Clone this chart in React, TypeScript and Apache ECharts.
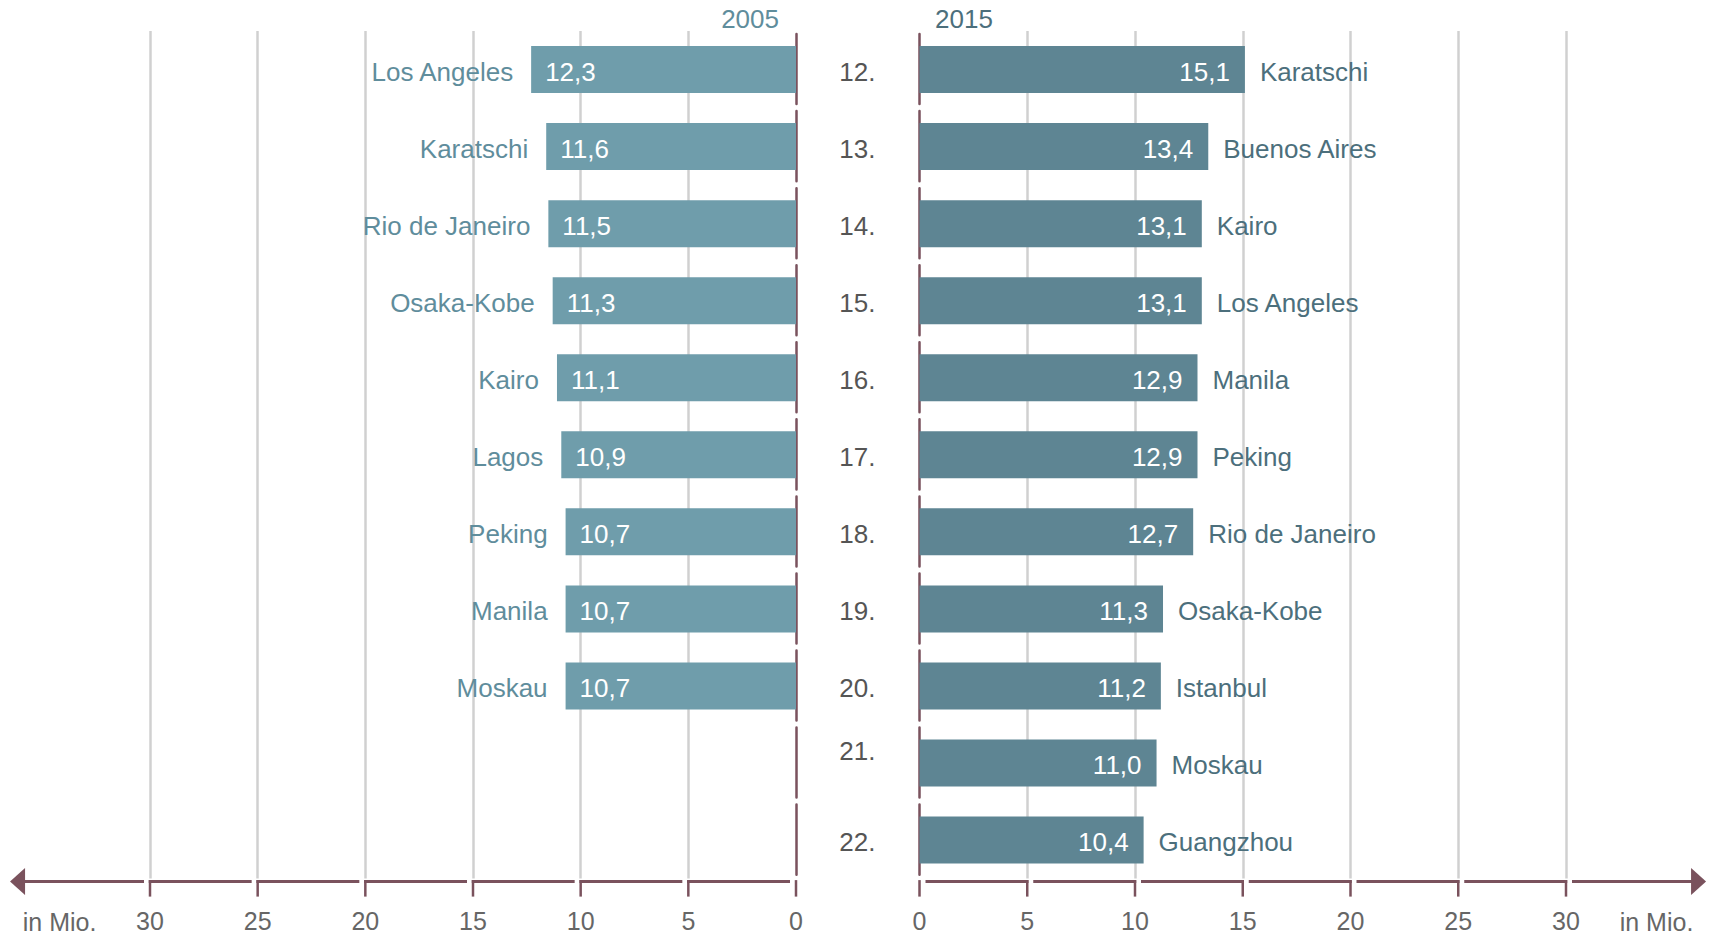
import React, { useEffect, useRef } from 'react';
import * as echarts from 'echarts';

// ---- data ----
const ranks = ['12.', '13.', '14.', '15.', '16.', '17.', '18.', '19.', '20.', '21.', '22.'];
const cities2005 = ['Los Angeles', 'Karatschi', 'Rio de Janeiro', 'Osaka-Kobe', 'Kairo', 'Lagos', 'Peking', 'Manila', 'Moskau'];
const values2005 = [12.3, 11.6, 11.5, 11.3, 11.1, 10.9, 10.7, 10.7, 10.7];
const cities2015 = ['Karatschi', 'Buenos Aires', 'Kairo', 'Los Angeles', 'Manila', 'Peking', 'Rio de Janeiro', 'Osaka-Kobe', 'Istanbul', 'Moskau', 'Guangzhou'];
const values2015 = [15.1, 13.4, 13.1, 13.1, 12.9, 12.9, 12.7, 11.3, 11.2, 11.0, 10.4];
const axisTicks = [0, 5, 10, 15, 20, 25, 30];
const yearLeft = '2005';
const yearRight = '2015';
const unitLabel = 'in Mio.';
const raisedRank = '21.';

// ---- style ----
const FONT = '"Liberation Sans", Arial, sans-serif';
const FS = 25;
const FSL = 26;
const MAROON = '#7a525d';
const GRID_GRAY = '#d0d0d0';
const BAR_LEFT = '#6f9dab';
const BAR_RIGHT = '#5e8593';
const TEXT_LEFT = '#5f8d9c';
const TEXT_RIGHT = '#4c6f7c';
const RANK_COLOR = '#555555';
const AXIS_TEXT = '#666666';
const ARROW_AT = 36.5;
const UNIT_AT = 34.2;
const GAP = 6;

const fmt = (v: number) => v.toFixed(1).replace('.', ',');

const GRID_TOP = 31;
const GRID_H = 847.6;
const PITCH = GRID_H / ranks.length;

function axisRenderer(side: number) {
  return (params: any, api: any) => {
    const v = api.value(0);
    const cs = params.coordSys;
    const y = cs.y + cs.height + 3;
    const x = api.coord([v, 0])[0];
    const maxTick = axisTicks[axisTicks.length - 1];
    const step = axisTicks[1] - axisTicks[0];
    const lw = 3;
    const children: any[] = [];
    children.push({
      type: 'line',
      shape: { x1: x, y1: y - lw / 2, x2: x, y2: y + 15 },
      style: { stroke: MAROON, lineWidth: 2.5 },
    });
    if (v < maxTick) {
      const xn = api.coord([v + step, 0])[0];
      children.push({
        type: 'line',
        shape: { x1: x + side * GAP, y1: y, x2: xn + side * 1.25, y2: y },
        style: { stroke: MAROON, lineWidth: lw },
      });
    } else {
      const xt = api.coord([ARROW_AT, 0])[0];
      children.push({
        type: 'line',
        shape: { x1: x + side * GAP, y1: y, x2: xt - side * 12, y2: y },
        style: { stroke: MAROON, lineWidth: lw },
      });
      children.push({
        type: 'polygon',
        shape: { points: [[xt, y], [xt - side * 15, y - 13.5], [xt - side * 15, y + 13.5]] },
        style: { fill: MAROON },
      });
      const xu = api.coord([UNIT_AT, 0])[0];
      children.push({
        type: 'text',
        x: xu,
        y: y + 40,
        style: { text: unitLabel, align: 'center', verticalAlign: 'middle', font: `${FS}px ${FONT}`, fill: AXIS_TEXT },
      });
    }
    return { type: 'group', children };
  };
}

export default function App() {
  const ref = useRef<HTMLDivElement>(null);
  useEffect(() => {
    if (!ref.current) return;
    const chart = echarts.init(ref.current, undefined, { renderer: 'svg' });
    const xAxisCommon = {
      type: 'value',
      min: 0,
      max: 30,
      interval: 5,
      axisLine: { show: false },
      axisTick: { show: false },
      splitLine: { show: true, showMinLine: false, lineStyle: { color: GRID_GRAY, width: 2.5 } },
      axisLabel: { margin: 30, color: AXIS_TEXT, fontSize: FS, fontFamily: FONT },
    };
    const dashLine = {
      show: true,
      lineStyle: { color: MAROON, width: 2.5, type: [PITCH - 7, 7], dashOffset: PITCH - 3.5 },
    };
    const barLabel = { fontSize: FSL, fontFamily: FONT, offset: [0, 2] };
    const option: any = {
      animation: false,
      backgroundColor: '#ffffff',
      textStyle: { fontFamily: FONT },
      grid: [
        { left: 150, width: 646, top: GRID_TOP, height: GRID_H, containLabel: false },
        { left: 919.5, width: 646.5, top: GRID_TOP, height: GRID_H, containLabel: false },
      ],
      xAxis: [
        { ...xAxisCommon, gridIndex: 0, inverse: true },
        { ...xAxisCommon, gridIndex: 1 },
      ],
      yAxis: [
        {
          type: 'category',
          gridIndex: 0,
          data: ranks,
          inverse: true,
          position: 'right',
          axisLine: dashLine,
          axisTick: { show: false },
          axisLabel: { show: false },
          splitLine: { show: false },
        },
        {
          type: 'category',
          gridIndex: 1,
          data: ranks,
          inverse: true,
          position: 'left',
          axisLine: dashLine,
          axisTick: { show: false },
          splitLine: { show: false },
          axisLabel: {
            margin: 44,
            color: RANK_COLOR,
            fontSize: FSL,
            fontFamily: FONT,
            formatter: (val: string) => (val === raisedRank ? `{up|${val}}` : `{n|${val}}`),
            rich: {
              n: { padding: [4, 0, 0, 0], color: RANK_COLOR, fontSize: FSL, fontFamily: FONT },
              up: { padding: [4, 0, 28, 0], color: RANK_COLOR, fontSize: FSL, fontFamily: FONT },
            },
          },
        },
      ],
      series: [
        {
          type: 'bar',
          xAxisIndex: 0,
          yAxisIndex: 0,
          data: values2005,
          barWidth: 47,
          barGap: '-100%',
          itemStyle: { color: BAR_LEFT },
          label: {
            show: true,
            position: 'insideLeft',
            distance: 14,
            color: '#ffffff',
            ...barLabel,
            formatter: (p: any) => fmt(p.value),
          },
          z: 3,
        },
        {
          type: 'bar',
          xAxisIndex: 0,
          yAxisIndex: 0,
          data: values2005,
          barWidth: 47,
          barGap: '-100%',
          itemStyle: { color: 'rgba(0,0,0,0)' },
          label: {
            show: true,
            position: 'left',
            distance: 18,
            color: TEXT_LEFT,
            ...barLabel,
            formatter: (p: any) => cities2005[p.dataIndex],
          },
          z: 4,
        },
        {
          type: 'bar',
          xAxisIndex: 1,
          yAxisIndex: 1,
          data: values2015,
          barWidth: 47,
          barGap: '-100%',
          itemStyle: { color: BAR_RIGHT },
          label: {
            show: true,
            position: 'insideRight',
            distance: 15,
            color: '#ffffff',
            ...barLabel,
            formatter: (p: any) => fmt(p.value),
          },
          z: 3,
        },
        {
          type: 'bar',
          xAxisIndex: 1,
          yAxisIndex: 1,
          data: values2015,
          barWidth: 47,
          barGap: '-100%',
          itemStyle: { color: 'rgba(0,0,0,0)' },
          label: {
            show: true,
            position: 'right',
            distance: 15,
            color: TEXT_RIGHT,
            ...barLabel,
            formatter: (p: any) => cities2015[p.dataIndex],
          },
          z: 4,
        },
        {
          type: 'custom',
          xAxisIndex: 0,
          yAxisIndex: 0,
          clip: false,
          silent: true,
          data: axisTicks.map((t) => [t, 0]),
          encode: { x: 0, y: 1 },
          renderItem: axisRenderer(-1),
          z: 5,
        },
        {
          type: 'custom',
          xAxisIndex: 1,
          yAxisIndex: 1,
          clip: false,
          silent: true,
          data: axisTicks.map((t) => [t, 0]),
          encode: { x: 0, y: 1 },
          renderItem: axisRenderer(1),
          z: 5,
        },
      ],
      graphic: [
        {
          type: 'text',
          x: 779,
          y: 19,
          style: { text: yearLeft, align: 'right', verticalAlign: 'middle', font: `${FSL}px ${FONT}`, fill: TEXT_LEFT },
        },
        {
          type: 'text',
          x: 935,
          y: 19,
          style: { text: yearRight, align: 'left', verticalAlign: 'middle', font: `${FSL}px ${FONT}`, fill: TEXT_RIGHT },
        },
      ],
    };
    chart.setOption(option);
    return () => chart.dispose();
  }, []);
  return <div ref={ref} style={{ position: 'fixed', left: 0, top: 0, width: 1710, height: 937 }} />;
}
